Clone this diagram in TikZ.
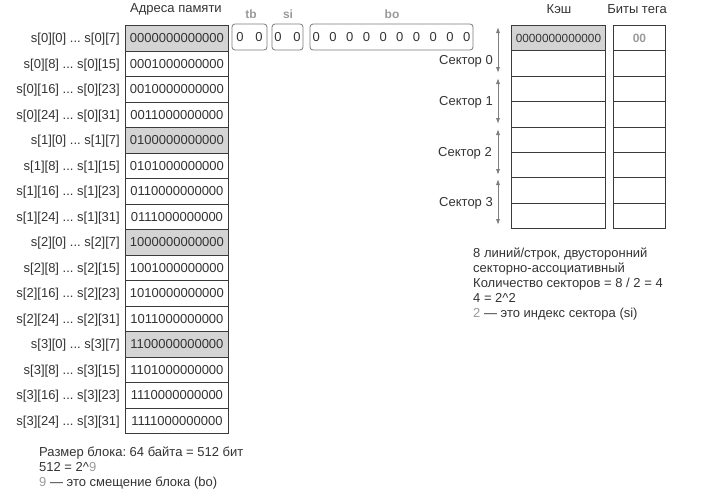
\documentclass[tikz,border=0pt]{standalone}
\usepackage{fontspec}
\setmainfont{Liberation Sans}
\usetikzlibrary{arrows.meta}
\definecolor{tx}{HTML}{333333}
\definecolor{gl}{HTML}{9A9A9A}
\definecolor{cf}{HTML}{D4D4D4}
\definecolor{bd}{HTML}{3A3A3A}
\definecolor{bx}{HTML}{7A7A7A}
\definecolor{ar}{HTML}{7E7E7E}
\begin{document}
\frenchspacing
\begin{tikzpicture}[x=1pt,y=-1pt,
  every node/.style={text=tx, font=\fontsize{13}{15}\selectfont},
  memcell/.style={draw=bd, line width=0.9pt, minimum width=103pt, minimum height=25.5pt, inner sep=0pt, anchor=north west},
  cachecell/.style={draw=bd, line width=0.9pt, minimum width=94pt, minimum height=25.4pt, inner sep=0pt, anchor=north west, font=\fontsize{11.8}{14}\selectfont},
  tagcell/.style={draw=bd, line width=0.9pt, minimum width=52pt, minimum height=25.4pt, inner sep=0pt, anchor=north west, font=\fontsize{12}{14}\selectfont\bfseries, text=gl},
  bitbox/.style={draw=bx, line width=0.8pt, rounded corners=3pt, minimum height=26pt, inner sep=0pt},
  bitlabel/.style={font=\fontsize{12}{14}\selectfont\bfseries, text=gl, inner sep=0pt},
  rowlabel/.style={anchor=base east, inner sep=0pt},
  plain/.style={anchor=base west, inner sep=0pt},
  sectorarrow/.style={draw=ar, line width=1pt, {Latex[length=6pt,width=4.2pt]}-{Latex[length=6pt,width=4.2pt]}},
]
\useasboundingbox (0,0) rectangle (719,491);

% memory header
\node[inner sep=0pt] (memhead) at (176,9) {Адреса памяти};

% memory rows
\foreach \f/\addr [count=\i from 0] in {cf/0000000000000, white/0001000000000, white/0010000000000, white/0011000000000,
  cf/0100000000000, white/0101000000000, white/0110000000000, white/0111000000000,
  cf/1000000000000, white/1001000000000, white/1010000000000, white/1011000000000,
  cf/1100000000000, white/1101000000000, white/1110000000000, white/1111000000000} {
  \pgfmathsetmacro\yy{25+25.5*\i}
  \pgfmathtruncatemacro\k{floor(\i/4)}
  \pgfmathtruncatemacro\a{8*mod(\i,4)}
  \pgfmathtruncatemacro\b{\a+7}
  \node[memcell, fill=\f] (m\i) at (125,\yy) {\addr};
  \node[rowlabel] (l\i) at ([xshift=-5pt, yshift=-4.6pt]m\i.west) {s[\k][\a] ... s[\k][\b]};
}

% address bit boxes
\node[bitbox, minimum width=35pt] (tb) at (249.5,37) {0\hspace{11.6pt}0};
\node[bitbox, minimum width=31pt] (si) at (287.5,37) {0\hspace{11.6pt}0};
\node[bitbox, minimum width=163pt] (bo) at (391.5,37) {0\hspace{9.5pt}0\hspace{9.5pt}0\hspace{9.5pt}0\hspace{9.5pt}0\hspace{9.5pt}0\hspace{9.5pt}0\hspace{9.5pt}0\hspace{9.5pt}0\hspace{9.5pt}0};
\node[bitlabel] (tbl) at (251,14) {tb};
\node[bitlabel] (sil) at (288,14) {si};
\node[bitlabel] (bol) at (392,14) {bo};

% cache
\node[inner sep=0pt] (cachehead) at (559,9) {Кэш};
\node[inner sep=0pt] (taghead) at (637,9) {Биты тега};
\foreach \i in {0,...,7} {
  \pgfmathsetmacro\yy{25+25.4*\i}
  \node[cachecell] (c\i) at (511,\yy) {};
  \node[tagcell] (t\i) at (613,\yy) {};
}
\node[cachecell, fill=cf] (c0) at (511,25) {0000000000000};
\node[tagcell] (t0) at (613,25) {00};

% sector arrows
\coordinate (s0a) at (498,27);  \coordinate (s0b) at (498,73);
\coordinate (s1a) at (498,78);  \coordinate (s1b) at (498,124);
\coordinate (s2a) at (498,129); \coordinate (s2b) at (498,175);
\coordinate (s3a) at (498,179); \coordinate (s3b) at (498,225);
\draw[sectorarrow] (s0a) -- (s0b);
\draw[sectorarrow] (s1a) -- (s1b);
\draw[sectorarrow] (s2a) -- (s2b);
\draw[sectorarrow] (s3a) -- (s3b);
\node[rowlabel] (sec0) at (493,64.5) {Сектор 0};
\node[rowlabel] (sec1) at (493,105.5) {Сектор 1};
\node[rowlabel] (sec2) at (492,156.5) {Сектор 2};
\node[rowlabel] (sec3) at (493,206.5) {Сектор 3};

% right notes
\node[plain] (r1) at (473,257.5) {8 линий/строк, двусторонний};
\node[plain] (r2) at (473,272.5) {секторно-ассоциативный};
\node[plain] (r3) at (473,287.5) {Количество секторов = 8 / 2 = 4};
\node[plain] (r4) at (473,302.5) {4 = 2\char`\^2};
\node[plain] (r5) at (473,317.5) {{\color{gl}2} — это индекс сектора (si)};

% bottom notes
\node[plain] (b1) at (39,456.5) {Размер блока: 64 байта = 512 бит};
\node[plain] (b2) at (39,471.5) {512 = 2\char`\^{\color{gl}9}};
\node[plain] (b3) at (39,486.5) {{\color{gl}9} — это смещение блока (bo)};
\end{tikzpicture}
\end{document}
